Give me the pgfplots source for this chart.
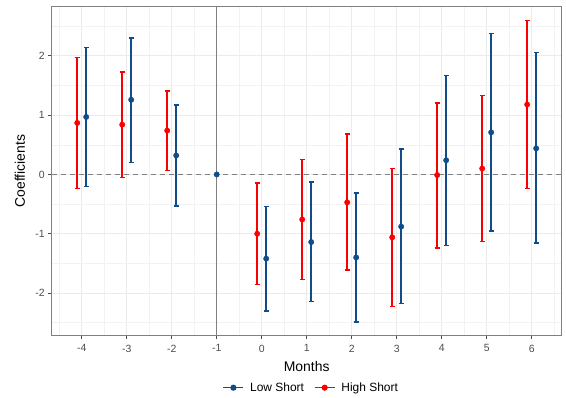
\documentclass[border=0pt]{standalone}
\usepackage{pgfplots}
\pgfplotsset{compat=1.18}
\usepackage{pgfplotstable}
\usepackage{fontspec}
\setmainfont{Liberation Sans}

\definecolor{lowblue}{RGB}{16,76,138}
\definecolor{highred}{RGB}{250,0,0}
\definecolor{refgray}{RGB}{128,128,128}

% Event-study coefficients with 95% confidence bounds
\pgfplotstableread{
m   y      lo     hi
-4  0.97  -0.20   2.14
-3  1.26   0.20   2.30
-2  0.32  -0.53   1.17
0  -1.42  -2.30  -0.54
1  -1.14  -2.14  -0.13
2  -1.40  -2.49  -0.31
3  -0.88  -2.18   0.43
4   0.24  -1.20   1.67
5   0.71  -0.95   2.38
6   0.44  -1.16   2.06
}\lowshort

\pgfplotstableread{
m   y      lo     hi
-4  0.87  -0.24   1.97
-3  0.84  -0.05   1.73
-2  0.74   0.07   1.41
0  -1.00  -1.86  -0.14
1  -0.76  -1.77   0.25
2  -0.47  -1.61   0.68
3  -1.06  -2.23   0.10
4  -0.01  -1.24   1.21
5   0.10  -1.13   1.33
6   1.18  -0.24   2.60
}\highshort

% whisker from the estimate to one bound, with a flat cap at the bound
\pgfplotsset{
  ci bars/.style={
    error bars/.cd, y dir=both, y explicit,
    draw error bar/.code 2 args={%
      \draw[#1, line width=1.55bp] ##1 -- ##2 ++(-2.6bp,0pt) -- ++(5.2bp,0pt);%
    },
  },
}

\begin{document}
\begin{tikzpicture}
\begin{axis}[
  at={(0,0)}, anchor=south west,
  scale only axis,
  width=510bp, height=329bp,
  xmin=-4.667, xmax=6.667,
  ymin=-2.72, ymax=2.83,
  xtick={-4,-3,...,6},
  ytick={-2,-1,...,2},
  minor xtick={-4.5,-3.5,...,6.5},
  minor ytick={-2.5,-1.5,...,2.5},
  grid=both,
  major grid style={black!8, line width=1bp},
  minor grid style={black!5, line width=0.6bp},
  axis line style={black!50, line width=0.9bp},
  tick pos=left,
  tick align=outside,
  major tick length=3.5bp,
  minor tick length=0pt,
  tick style={black!70, line width=0.9bp},
  /pgf/number format/assume math mode=true,
  ticklabel style={font=\fontsize{10.5}{12}\selectfont, text=black!70},
  xticklabel style={yshift=-2bp},
  xlabel={Months},
  ylabel={Coefficients},
  label style={font=\fontsize{14}{16}\selectfont},
  xlabel style={at={(axis description cs:0.5,-0.0942)}, anchor=center},
  ylabel style={at={(axis description cs:-0.0622,0.5)}, anchor=center},
  legend style={at={(0.509,-0.158)}, anchor=center, draw=none, fill=none,
    font=\fontsize{12}{14}\selectfont, legend columns=2,
    /tikz/every odd column/.append style={column sep=4bp},
    /tikz/every even column/.append style={column sep=8bp}},
  legend image code/.code={
    \draw[mark repeat=2, mark phase=2, #1] plot coordinates {(0bp,0bp) (10bp,0bp) (20bp,0bp)};
  },
]
% reference lines
\addplot[refgray, line width=1.1bp, forget plot] coordinates {(-1,-2.72) (-1,2.83)};
\addplot[refgray, line width=1.1bp, dash pattern=on 5bp off 4bp, forget plot]
  coordinates {(-4.667,0) (6.667,0)};

\addlegendimage{lowblue, line width=1.5bp, mark=*, mark size=2.3bp}
\addlegendentry{Low Short}
\addlegendimage{highred, line width=1.5bp, mark=*, mark size=2.3bp}
\addlegendentry{High Short}

% High short group, dodged left
\addplot[highred, only marks, mark=*, mark size=2.7bp, forget plot, ci bars=highred]
  table[x expr=\thisrow{m}-0.1, y=y,
        y error plus expr=\thisrow{hi}-\thisrow{y},
        y error minus expr=\thisrow{y}-\thisrow{lo}] {\highshort};

% Low short group, dodged right
\addplot[lowblue, only marks, mark=*, mark size=2.7bp, forget plot, ci bars=lowblue]
  table[x expr=\thisrow{m}+0.1, y=y,
        y error plus expr=\thisrow{hi}-\thisrow{y},
        y error minus expr=\thisrow{y}-\thisrow{lo}] {\lowshort};

% reference month
\addplot[lowblue, only marks, mark=*, mark size=2.7bp, forget plot]
  coordinates {(-1,0)};
\end{axis}
\path[use as bounding box] (-51.7bp,-62.3bp) rectangle (514.3bp,335.7bp);
\end{tikzpicture}
\end{document}
